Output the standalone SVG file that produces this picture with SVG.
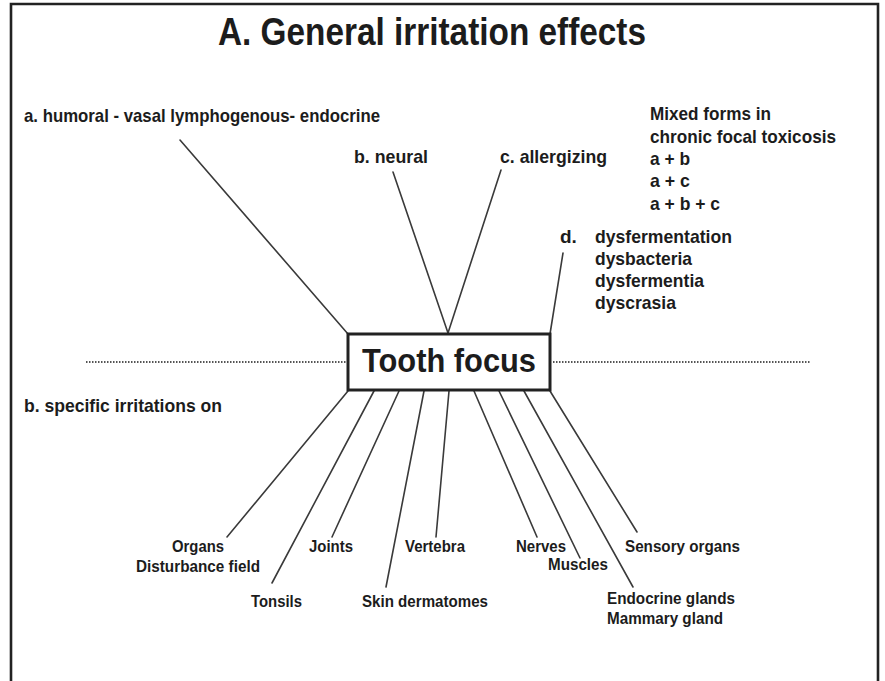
<svg xmlns="http://www.w3.org/2000/svg" width="885" height="681" viewBox="0 0 885 681">
<style>
text{font-family:"Liberation Sans",Arial,sans-serif;font-weight:bold;fill:#1c1c1c}
.t18{font-size:19px}
.t15{font-size:16.8px}
.ln{stroke:#3a3a3a;stroke-width:1.6;fill:none;stroke-linecap:round}
.dot{stroke:#555;stroke-width:2;stroke-dasharray:1.5 1.5;fill:none}
.frame{stroke:#222;stroke-width:2.6;fill:none}
</style>
<rect width="885" height="681" fill="#fff"/>
<path class="frame" d="M11,681 V4 H878 V681"/>
<g id="title"><text x="218" y="45" font-size="38.5" textLength="428" lengthAdjust="spacingAndGlyphs">A. General irritation effects</text></g>
<g id="connectors">
<line class="dot" x1="86" y1="362" x2="346" y2="362"/>
<line class="dot" x1="553" y1="362" x2="811" y2="362"/>
<line class="ln" x1="180" y1="140" x2="348" y2="334"/>
<line class="ln" x1="393" y1="172" x2="448" y2="333"/>
<line class="ln" x1="501" y1="170" x2="448" y2="333"/>
<line class="ln" x1="563" y1="253" x2="550" y2="334"/>
<line class="ln" x1="348" y1="391" x2="227" y2="537"/>
<line class="ln" x1="374" y1="391" x2="272" y2="583"/>
<line class="ln" x1="399" y1="391" x2="332" y2="537"/>
<line class="ln" x1="424" y1="391" x2="386" y2="587"/>
<line class="ln" x1="449" y1="391" x2="436" y2="537"/>
<line class="ln" x1="474" y1="391" x2="537" y2="537"/>
<line class="ln" x1="499" y1="391" x2="580" y2="558"/>
<line class="ln" x1="524" y1="391" x2="633" y2="587"/>
<line class="ln" x1="550" y1="391" x2="637" y2="532"/>
</g>
<g id="tooth-focus">
<rect x="348" y="334" width="202" height="56" fill="#fff" stroke="#222" stroke-width="3"/>
<text x="362" y="372" font-size="33.5" textLength="174" lengthAdjust="spacingAndGlyphs">Tooth focus</text>
</g>
<g id="a-humoral"><text class="t18" x="24" y="122" textLength="356" lengthAdjust="spacingAndGlyphs">a. humoral - vasal lymphogenous- endocrine</text></g>
<g id="b-neural"><text class="t18" x="354" y="163" textLength="74" lengthAdjust="spacingAndGlyphs">b. neural</text></g>
<g id="c-allergizing"><text class="t18" x="500" y="163" textLength="107" lengthAdjust="spacingAndGlyphs">c. allergizing</text></g>
<g id="mixed-forms">
<text class="t18" x="650" y="120" textLength="121" lengthAdjust="spacingAndGlyphs">Mixed forms in</text>
<text class="t18" x="650" y="143" textLength="186" lengthAdjust="spacingAndGlyphs">chronic focal toxicosis</text>
<text class="t18" x="650" y="165" textLength="40" lengthAdjust="spacingAndGlyphs">a + b</text>
<text class="t18" x="650" y="187" textLength="40" lengthAdjust="spacingAndGlyphs">a + c</text>
<text class="t18" x="650" y="210" textLength="70" lengthAdjust="spacingAndGlyphs">a + b + c</text>
</g>
<g id="d-dysfermentation">
<text class="t18" x="560" y="243">d.</text>
<text class="t18" x="595" y="243" textLength="137" lengthAdjust="spacingAndGlyphs">dysfermentation</text>
<text class="t18" x="595" y="265" textLength="97" lengthAdjust="spacingAndGlyphs">dysbacteria</text>
<text class="t18" x="595" y="287" textLength="109" lengthAdjust="spacingAndGlyphs">dysfermentia</text>
<text class="t18" x="595" y="309" textLength="81" lengthAdjust="spacingAndGlyphs">dyscrasia</text>
</g>
<g id="b-specific"><text class="t18" x="24" y="412" textLength="198" lengthAdjust="spacingAndGlyphs">b. specific irritations on</text></g>
<g id="organs">
<text class="t15" x="172" y="552" textLength="52" lengthAdjust="spacingAndGlyphs">Organs</text>
<text class="t15" x="136" y="572" textLength="124" lengthAdjust="spacingAndGlyphs">Disturbance field</text>
</g>
<g id="tonsils"><text class="t15" x="251" y="607" textLength="51" lengthAdjust="spacingAndGlyphs">Tonsils</text></g>
<g id="joints"><text class="t15" x="309" y="552" textLength="44" lengthAdjust="spacingAndGlyphs">Joints</text></g>
<g id="skin"><text class="t15" x="362" y="607" textLength="126" lengthAdjust="spacingAndGlyphs">Skin dermatomes</text></g>
<g id="vertebra"><text class="t15" x="405" y="552" textLength="60" lengthAdjust="spacingAndGlyphs">Vertebra</text></g>
<g id="nerves"><text class="t15" x="516" y="552" textLength="50" lengthAdjust="spacingAndGlyphs">Nerves</text></g>
<g id="muscles"><text class="t15" x="548" y="570" textLength="60" lengthAdjust="spacingAndGlyphs">Muscles</text></g>
<g id="sensory"><text class="t15" x="625" y="552" textLength="115" lengthAdjust="spacingAndGlyphs">Sensory organs</text></g>
<g id="endocrine">
<text class="t15" x="607" y="604" textLength="128" lengthAdjust="spacingAndGlyphs">Endocrine glands</text>
<text class="t15" x="607" y="624" textLength="116" lengthAdjust="spacingAndGlyphs">Mammary gland</text>
</g>
</svg>
